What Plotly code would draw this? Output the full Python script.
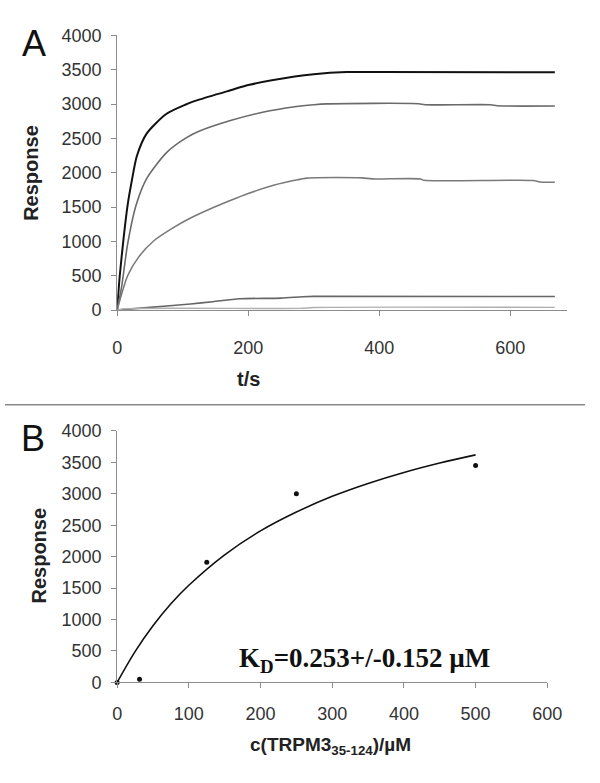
import plotly.graph_objects as go

# panel A: association curves (t in s, response)
t_black = [0, 4, 10, 16, 23, 30, 45, 75, 104, 124, 173, 202, 271, 300, 350, 400, 668]
r_black = [0, 500, 1060, 1530, 1915, 2240, 2570, 2855, 2990, 3060, 3200, 3280, 3400, 3435, 3465, 3468, 3462]

t_gray1 = [0, 7, 16, 29, 45, 75, 104, 124, 173, 222, 271, 300, 320, 460, 470, 570, 580, 668]
r_gray1 = [0, 350, 960, 1530, 1915, 2290, 2500, 2600, 2760, 2880, 2960, 2990, 3003, 3005, 2990, 2990, 2975, 2972]

t_gray2 = [0, 16, 33, 56, 84, 112, 146, 169, 198, 240, 271, 290, 374, 389, 463, 468, 635, 645, 668]
r_gray2 = [0, 500, 775, 1010, 1190, 1340, 1490, 1580, 1690, 1820, 1890, 1922, 1925, 1910, 1910, 1890, 1887, 1865, 1862]

t_gray3 = [0, 50, 112, 146, 187, 250, 283, 300, 668]
r_gray3 = [0, 40, 90, 123, 165, 175, 195, 200, 198]

t_gray4 = [0, 10, 280, 300, 668]
r_gray4 = [0, 20, 25, 38, 40]

# panel B: steady-state response vs concentration
conc = [0, 31.25, 125, 250, 500]
resp = [0, 50, 1910, 3000, 3450]
fit_c = [0, 25, 50, 75, 100, 150, 200, 250, 300, 350, 400, 450, 500]
fit_r = [0, 490, 900, 1250, 1545, 2030, 2410, 2710, 2960, 3165, 3340, 3490, 3620]

W, H = 600, 783

TICK_FONT = dict(family="Liberation Sans, Arial", size=18, color="#333")
AXIS_GRAY = "#8c8c8c"


def px_x(x):
    return x / W


def px_y(y):
    return 1 - y / H


fig = go.Figure()

curves = [
    (t_black, r_black, "#111111", 2),
    (t_gray1, r_gray1, "#6a6a6a", 1.6),
    (t_gray2, r_gray2, "#7a7a7a", 1.6),
    (t_gray3, r_gray3, "#666666", 1.6),
    (t_gray4, r_gray4, "#b0b0b0", 1.4),
]
for tx, ry, color, width in curves:
    fig.add_trace(go.Scatter(x=tx, y=ry, mode="lines",
                             line=dict(color=color, width=width, shape="spline", smoothing=0.7),
                             xaxis="x", yaxis="y", showlegend=False, hoverinfo="skip"))

fig.add_trace(go.Scatter(x=fit_c, y=fit_r, mode="lines", line=dict(color="#111", width=1.6, shape="spline"),
                         xaxis="x2", yaxis="y2", showlegend=False))
fig.add_trace(go.Scatter(x=conc, y=resp, mode="markers", marker=dict(color="#111", size=5),
                         xaxis="x2", yaxis="y2", showlegend=False, cliponaxis=False))

common = dict(showgrid=False, zeroline=False, showline=True, linecolor=AXIS_GRAY, linewidth=1,
              ticks="outside", ticklen=5, tickcolor=AXIS_GRAY, tickfont=TICK_FONT)

fig.update_layout(
    width=W, height=H,
    margin=dict(l=0, r=0, t=0, b=0),
    paper_bgcolor="white", plot_bgcolor="white",
    xaxis=dict(domain=[px_x(116), px_x(581)], range=[0, 686], tickvals=[0, 200, 400, 600],
               anchor="y", ticklabelstandoff=16, **common),
    yaxis=dict(domain=[px_y(308), px_y(26)], range=[0, 4000], dtick=500,
               anchor="x", ticklabelstandoff=6, **common),
    xaxis2=dict(domain=[px_x(116), px_x(561)], range=[0, 600], dtick=100,
                anchor="y2", ticklabelstandoff=10, **common),
    yaxis2=dict(domain=[px_y(690), px_y(432)], range=[0, 4000], dtick=500,
                anchor="x2", ticklabelstandoff=6, **common),
)

title_font = dict(family="Liberation Sans, Arial", size=20, color="#222")


def label(text, x, y, font, angle=0):
    fig.add_annotation(text=text, x=px_x(x), y=px_y(y), xref="paper", yref="paper",
                       showarrow=False, font=font, textangle=angle, xanchor="center", yanchor="middle")


label("A", 30, 34, dict(family="Liberation Sans, Arial", size=36, color="#111"))
label("B", 29, 440, dict(family="Liberation Sans, Arial", size=36, color="#111"))
label("<b>Response</b>", 27, 167, title_font, angle=-90)
label("<b>Response</b>", 35, 560, title_font, angle=-90)
label("<b>t/s</b>", 252, 379, title_font)
label("<b>c(TRPM3<sub>35-124</sub>)/µM</b>", 337, 755, dict(family="Liberation Sans, Arial", size=19, color="#222"))
label("<b>K<sub>D</sub>=0.253+/-0.152 µM</b>", 372, 667,
      dict(family="Liberation Serif, Times New Roman", size=27, color="#111"))

# divider between panels
fig.add_shape(type="line", xref="paper", yref="paper", x0=0, x1=1, y0=px_y(405), y1=px_y(405),
              line=dict(color="#888", width=1.5))

# drop the default body margin so the figure sits at the page corner
fig.write_html("out.html", config={"displayModeBar": False},
               post_script="document.body.style.margin = '0';")
